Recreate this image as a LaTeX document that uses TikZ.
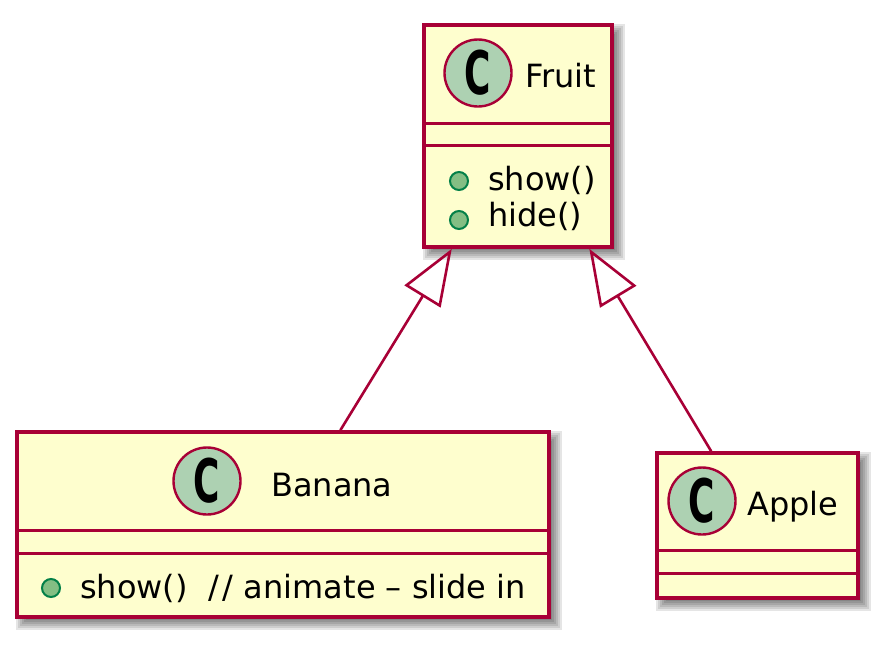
\documentclass[tikz,border=0pt]{standalone}
\usepackage{fontspec}
\usepackage{graphicx}
\setmainfont{DejaVu Sans}
\usetikzlibrary{calc,arrows.meta}

\definecolor{umlborder}{HTML}{A80036}
\definecolor{umlfill}{HTML}{FEFECE}
\definecolor{umlspot}{HTML}{ADD1B2}
\definecolor{umlpubfill}{HTML}{84BE84}
\definecolor{umlpubline}{HTML}{038048}

\tikzset{
  classbox/.style={draw=umlborder, fill=umlfill, line width=3.6pt, rectangle, inner sep=0pt},
  divider/.style={draw=umlborder, line width=3pt},
  spot/.style={circle, draw=umlborder, fill=umlspot, line width=2.4pt, minimum size=67pt, inner sep=0pt,
    font=\fontsize{60}{60}\selectfont\bfseries},
  classname/.style={anchor=base west, inner sep=0pt, font=\fontsize{32}{38}\selectfont},
  member/.style={anchor=base west, inner sep=0pt, font=\fontsize{32}{38}\selectfont},
  pub/.style={circle, draw=umlpubline, fill=umlpubfill, line width=2pt, minimum size=18pt, inner sep=0pt},
  extends/.style={draw=umlborder, line width=2.6pt,
    -{Triangle[open, length=56pt, width=42pt, line join=miter]}},
}

% soft shadow behind a box given by its corners (upper left, lower right)
\newcommand{\boxshadow}[4]{%
  \foreach \d in {-3,-1,...,7}{%
    \fill[black, opacity=0.1] (#1+6-\d,#2+6-\d) rectangle (#3+6+\d,#4+6+\d);
  }%
}

\begin{document}
\begin{tikzpicture}[x=1pt, y=-1pt]
  \useasboundingbox (0,0) rectangle (890,651);

  % shadows
  \boxshadow{424}{25}{612}{247}
  \boxshadow{17}{432}{549}{617}
  \boxshadow{657}{453}{858}{598}

  % class boxes
  \node[classbox, minimum width=188pt, minimum height=222pt] (fruit) at (518,136) {};
  \node[classbox, minimum width=532pt, minimum height=185pt] (banana) at (283,524.5) {};
  \node[classbox, minimum width=201pt, minimum height=145pt] (apple) at (757.5,525.5) {};

  % compartment dividers
  \draw[divider] (fruit.west |- 0,123) -- (fruit.east |- 0,123);
  \draw[divider] (fruit.west |- 0,145) -- (fruit.east |- 0,145);
  \draw[divider] (banana.west |- 0,530) -- (banana.east |- 0,530);
  \draw[divider] (banana.west |- 0,553) -- (banana.east |- 0,553);
  \draw[divider] (apple.west |- 0,550) -- (apple.east |- 0,550);
  \draw[divider] (apple.west |- 0,573) -- (apple.east |- 0,573);

  % class headers
  \node[spot] (fruitspot) at (478,73) {\scalebox{0.6}[1]{C}};
  \node[classname] (fruitname) at (525,87) {Fruit};
  \node[spot] (bananaspot) at (207,481) {\scalebox{0.6}[1]{C}};
  \node[classname] (banananame) at (271,496) {Banana};
  \node[spot] (applespot) at (702,501) {\scalebox{0.6}[1]{C}};
  \node[classname] (applename) at (747,515) {Apple};

  % methods
  \node[pub] (fruitpub1) at (459,181) {};
  \node[member] (fruitshow) at (488,190) {show()};
  \node[pub] (fruitpub2) at (459,220) {};
  \node[member] (fruithide) at (488,226) {hide()};
  \node[pub] (bananapub) at (51,588) {};
  \node[member] (bananashow) at (80,598) {show()\ \ /\kern4pt/ animate – slide in};

  % generalizations
  \draw[extends] ($(banana.north west)!0.6071!(banana.north east)$)
    -- ($(fruit.south west)!0.1543!(fruit.south east)$);
  \draw[extends] ($(apple.north west)!0.2736!(apple.north east)$)
    -- ($(fruit.south west)!0.8723!(fruit.south east)$);
\end{tikzpicture}
\end{document}
